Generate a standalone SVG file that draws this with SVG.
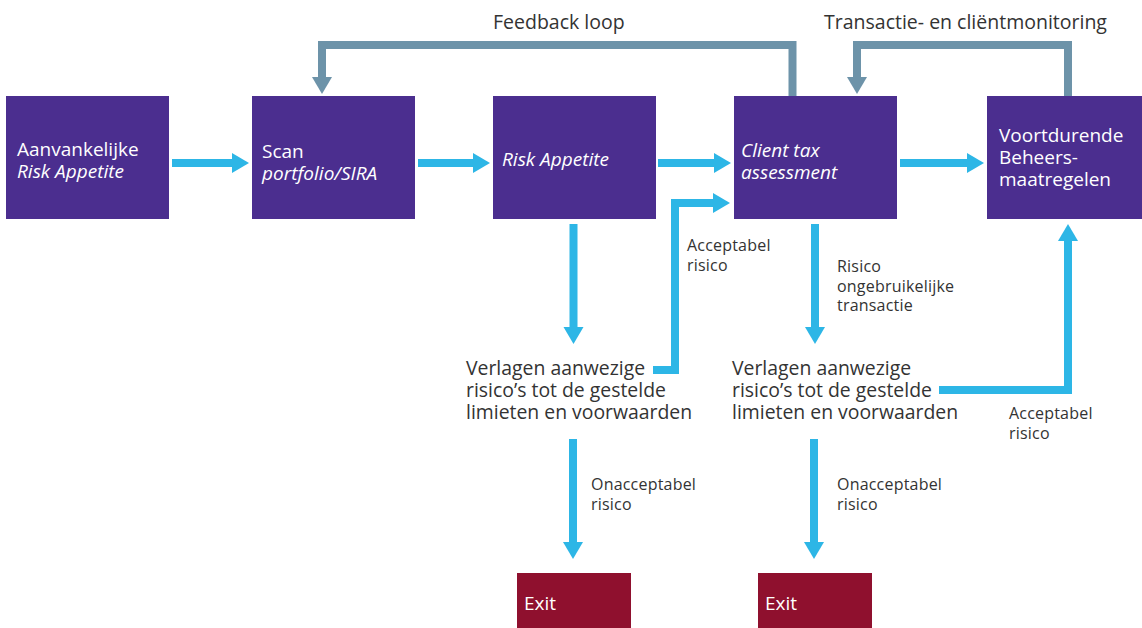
<svg xmlns="http://www.w3.org/2000/svg" width="1142" height="628" viewBox="0 0 1142 628">
<style>
.box{fill:#4b2e8f}
.exit{fill:#8f102e}
.bt{font-family:"Open Sans","Noto Sans",sans-serif;font-size:19px;fill:#ffffff}
.it{font-style:italic}
.lbl{font-family:"Open Sans","Noto Sans",sans-serif;font-size:19.5px;fill:#333333}
.sm{font-family:"Open Sans","Noto Sans",sans-serif;font-size:16px;letter-spacing:0.2px;fill:#333333}
.big{font-family:"Open Sans","Noto Sans",sans-serif;font-size:19.4px;fill:#333333}
.c{fill:none;stroke:#2db6e6;stroke-width:8;marker-end:url(#ac)}
.g{fill:none;stroke:#6d93a9;stroke-width:8;marker-end:url(#ag)}
</style>
<defs>
<marker id="ac" markerUnits="userSpaceOnUse" markerWidth="18" markerHeight="20" refX="1" refY="10" orient="auto" overflow="visible">
<path d="M0,0 L17,10 L0,20 z" fill="#2db6e6"/>
</marker>
<marker id="ag" markerUnits="userSpaceOnUse" markerWidth="18" markerHeight="20" refX="1" refY="10" orient="auto" overflow="visible">
<path d="M0,0 L17,10 L0,20 z" fill="#6d93a9"/>
</marker>
</defs>
<rect width="1142" height="628" fill="#ffffff"/>
<g id="connectors">
<path class="g" d="M792.5,96 V45 H322 V78"/>
<path class="g" d="M1068,96 V45 H857 V78"/>
<path class="c" d="M172,163 H233"/>
<path class="c" d="M418,163 H474"/>
<path class="c" d="M658,163 H715"/>
<path class="c" d="M900,163 H968"/>
<path class="c" d="M573.5,224 V328"/>
<path class="c" d="M815,224 V328"/>
<path class="c" d="M653,370 H675 V203 H714"/>
<path class="c" d="M939,390 H1068 V240"/>
<path class="c" d="M573,439 V543"/>
<path class="c" d="M814,439 V543"/>
</g>
<g id="labels">
<text class="lbl" x="493" y="29">Feedback loop</text>
<text class="lbl" x="824" y="29">Transactie- en cliëntmonitoring</text>
<text class="sm" x="687" y="251">Acceptabel</text>
<text class="sm" x="687" y="271">risico</text>
<text class="sm" x="837" y="272">Risico</text>
<text class="sm" x="837" y="292">ongebruikelijke</text>
<text class="sm" x="837" y="311">transactie</text>
<text class="sm" x="1009" y="419">Acceptabel</text>
<text class="sm" x="1009" y="439">risico</text>
<text class="sm" x="591" y="490">Onacceptabel</text>
<text class="sm" x="591" y="510">risico</text>
<text class="sm" x="837" y="490">Onacceptabel</text>
<text class="sm" x="837" y="510">risico</text>
</g>
<g id="n1">
<rect class="box" x="6" y="96" width="163" height="123"/>
<text class="bt" x="17" y="156">Aanvankelijke</text>
<text class="bt it" x="17" y="178">Risk Appetite</text>
</g>
<g id="n2">
<rect class="box" x="252" y="96" width="163" height="123"/>
<text class="bt" x="262" y="158">Scan</text>
<text class="bt it" x="262" y="180">portfolio/SIRA</text>
</g>
<g id="n3">
<rect class="box" x="493" y="96" width="163" height="123"/>
<text class="bt it" x="502" y="166">Risk Appetite</text>
</g>
<g id="n4">
<rect class="box" x="734" y="96" width="163" height="123"/>
<text class="bt it" x="741" y="157">Client tax</text>
<text class="bt it" x="741" y="179">assessment</text>
</g>
<g id="n5">
<rect class="box" x="987" y="96" width="155" height="123"/>
<text class="bt" x="999" y="142">Voortdurende</text>
<text class="bt" x="999" y="164">Beheers-</text>
<text class="bt" x="999" y="186">maatregelen</text>
</g>
<g id="n6">
<text class="big" x="466" y="375">Verlagen aanwezige</text>
<text class="big" x="466" y="397">risico’s tot de gestelde</text>
<text class="big" x="466" y="419">limieten en voorwaarden</text>
</g>
<g id="n7">
<text class="big" x="732" y="375">Verlagen aanwezige</text>
<text class="big" x="732" y="397">risico’s tot de gestelde</text>
<text class="big" x="732" y="419">limieten en voorwaarden</text>
</g>
<g id="n8">
<rect class="exit" x="517" y="573" width="114" height="55"/>
<text class="bt" x="524" y="610">Exit</text>
</g>
<g id="n9">
<rect class="exit" x="758" y="573" width="114" height="55"/>
<text class="bt" x="765" y="610">Exit</text>
</g>
</svg>
